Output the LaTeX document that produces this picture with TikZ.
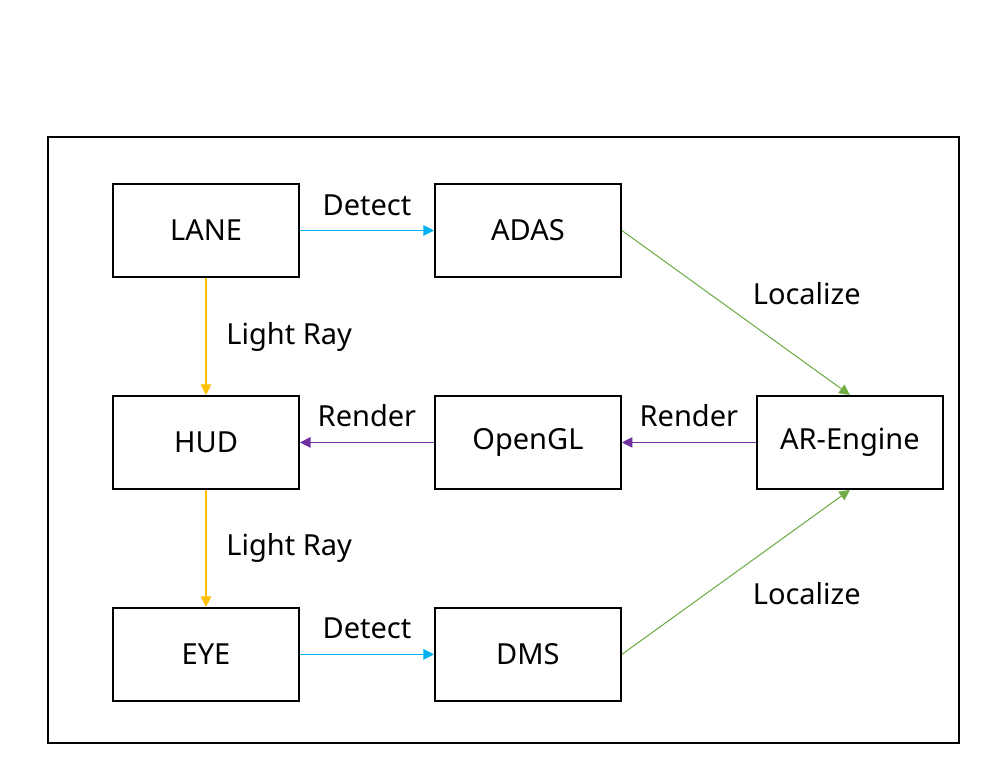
\documentclass[tikz,border=0pt]{standalone}
\usepackage{fontspec}
\setmainfont{Noto Sans}
\usetikzlibrary{arrows.meta,positioning}

\definecolor{detectblue}{RGB}{0,176,240}
\definecolor{rayyellow}{RGB}{255,192,0}
\definecolor{localgreen}{RGB}{112,173,71}
\definecolor{renderpurple}{RGB}{112,48,160}

\begin{document}
\begin{tikzpicture}[
    > = {Triangle[length=6pt,width=6pt]}, % arrow head style
    node distance = 2.34cm and 2.68cm, % gaps between boxes
    font = \fontsize{16.5}{20}\selectfont,
    box/.style = {draw = black, line width = 1.1pt, minimum width = 3.72cm,
                  minimum height = 1.86cm, inner sep = 0pt},
    link/.style = {->, line width = 0.6pt}
    ]

    % frame and page size
    \useasboundingbox (0,0) rectangle (19.86,-15.58);
    \draw[line width = 1.1pt] (0.96,-2.74) rectangle (19.18,-14.86);

    \node[box] (lane) at (4.12,-4.61) {LANE};
    \node[box] (adas) [right=of lane] {ADAS};
    \node[box] (hud) [below=of lane] {HUD};
    \node[box] (opengl) [right=of hud] {OpenGL};
    \node[box] (arengine) [right=of opengl] {AR-Engine};
    \node[box] (eye) [below=of hud] {EYE};
    \node[box] (dms) [right=of eye] {DMS};

    \path[link, detectblue] (lane) edge node[above, text=black, yshift=5pt]{Detect} (adas);
    \path[link, detectblue] (eye) edge node[above, text=black, yshift=5pt]{Detect} (dms);
    \path[link, rayyellow] (lane) edge node[right, text=black, xshift=8pt]{Light Ray} (hud);
    \path[link, rayyellow] (hud) edge node[right, text=black, xshift=8pt]{Light Ray} (eye);
    \path[link, renderpurple] (arengine) edge node[above, text=black, yshift=5pt]{Render} (opengl);
    \path[link, renderpurple] (opengl) edge node[above, text=black, yshift=5pt]{Render} (hud);
    \path[link, localgreen] (adas.east) edge node[above right, text=black, xshift=6pt, yshift=1pt]{Localize} (arengine.north);
    \path[link, localgreen] (dms.east) edge node[below right, text=black, xshift=6pt, yshift=-2pt]{Localize} (arengine.south);
\end{tikzpicture}
\end{document}
